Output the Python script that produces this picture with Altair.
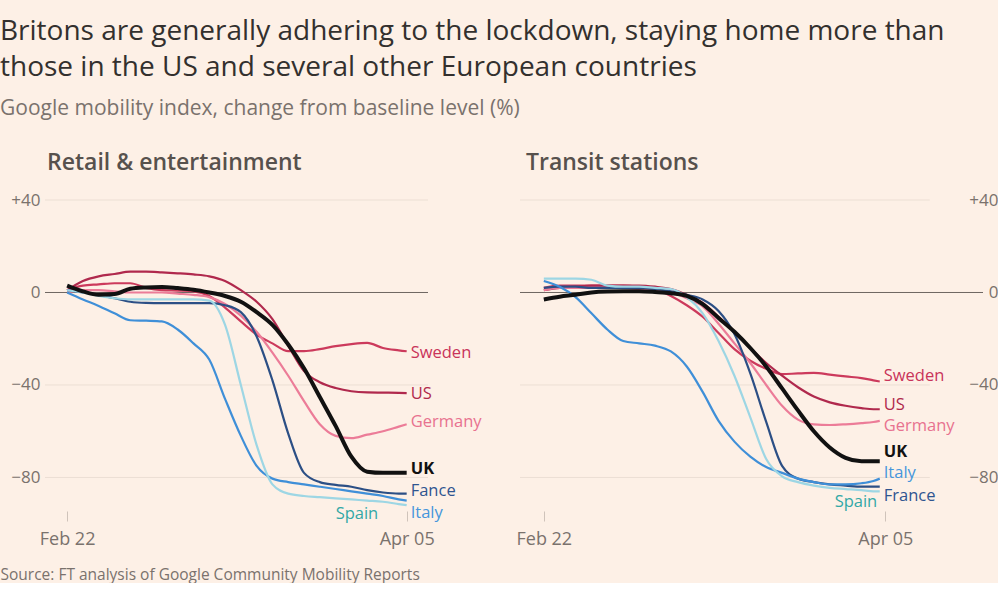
import altair as alt
import pandas as pd

FONT = "Open Sans"
BG = "#fdf0e6"
TEXT_DARK = "#33302e"
TEXT_GREY = "#7a726d"
PANEL_GREY = "#57514d"

RETAIL_DAYS = [0, 2, 4, 6, 8, 10, 12, 14, 16, 18, 20, 22, 24, 26, 28, 30, 32, 34, 36, 38, 40, 42, 43]
TRANSIT_DAYS = [0, 2, 4, 6, 8, 10, 12, 14, 16, 18, 20, 22, 24, 26, 28, 30, 32, 34, 36, 38, 40, 41.5, 42.3]
TICK_DAYS = [0, 43]
TICK_LABELS = ["Feb 22", "Apr 05"]
Y_TICKS = [40, 0, -40, -80]
GRID_VALUES = [40, -40, -80]

COUNTRIES = ["Sweden", "US", "Germany", "France", "Italy", "Spain", "UK"]
LINE_COLORS = ["#cc3a5c", "#b0294d", "#ec7c98", "#2c4f85", "#3f8fd8", "#9dd6e4", "#111111"]
LABEL_COLORS = ["#c9345a", "#b0294d", "#e8728f", "#2f5590", "#4596dc", "#33a8a6", "#111111"]

# Retail & entertainment (% change from baseline)
RETAIL_SWEDEN = [1, 3, 3.5, 4, 4, 2, 1, 0.8, 0.5, -1.5, -6.5, -12.5, -18.2, -22, -25.4, -25.4, -24.5, -23.2, -22.3, -21.8, -24, -25, -25.4]
RETAIL_US = [1, 5, 7, 8, 9, 9, 8.7, 8.3, 7.8, 7, 5, 1, -4, -11.5, -23, -34, -38.8, -41.3, -42.7, -43.2, -43.3, -43.4, -43.5]
RETAIL_GERMANY = [0, 1, 1, 0.5, 0, 0, 0, -0.5, -1, -2, -5, -10, -17, -26, -36, -47, -57, -62, -63, -61.5, -60, -58, -57]
RETAIL_UK = [3, 0.5, -1, -0.7, 1.6, 2.2, 2.4, 1.9, 1.2, 0, -1.5, -4, -8.5, -14, -22.5, -32.8, -45.2, -57.7, -71, -77.5, -78, -78, -78]
RETAIL_FRANCE = [1, 0, -1, -2.5, -4, -4.5, -4.6, -4.6, -4.6, -4.6, -5.5, -8.5, -19, -38, -61, -78, -82, -83.2, -84, -85.5, -86.5, -87, -87]
RETAIL_ITALY = [0, -3, -5.8, -9, -12, -12.2, -12.5, -16, -22, -29, -46, -62, -75, -80.5, -82, -83, -84, -85, -86, -87, -88, -89.5, -90]
RETAIL_SPAIN = [1, 0, -1.5, -2.5, -3, -3, -3, -3, -3, -3.5, -14, -40, -66, -83, -87, -88, -88.5, -89, -89.5, -90, -90.5, -91.5, -92]

# Transit stations (% change from baseline)
TRANSIT_SWEDEN = [2, 3, 3, 3, 3, 3, 2.5, 1.5, -1.5, -5.5, -10.5, -17.5, -24.5, -29.5, -33, -35.3, -35, -34.8, -35.5, -36.3, -37, -38, -38.5]
TRANSIT_US = [1, 2, 2.5, 3, 3, 3, 3, 2.5, 1.5, -1, -4.5, -10.5, -17, -24, -30.5, -36, -41, -45, -47.5, -49, -50, -50.5, -50.5]
TRANSIT_GERMANY = [1, 2, 2, 2, 2, 2, 1.5, 1, 0, -2.5, -6, -13.5, -22, -30.5, -40, -49, -55, -57, -57.3, -57, -56.5, -56, -55.5]
TRANSIT_UK = [-3, -1.8, -1, 0, 0.4, 0.5, 0.5, 0.2, -0.3, -1.5, -5, -11, -17, -24, -32, -41.5, -51, -60, -67, -71.5, -73, -73, -73]
TRANSIT_FRANCE = [2, 2.5, 2.5, 2, 2, 2, 2, 1.5, 0.5, -1, -3, -8, -18, -35, -56, -75, -80.5, -82, -83, -83.5, -84, -84, -84]
TRANSIT_ITALY = [5, 2.5, -2, -9, -16, -21, -22, -23, -25.5, -32, -43, -55.5, -64.5, -71, -75.5, -78, -80.5, -82, -83, -83, -82.5, -81.5, -80.5]
TRANSIT_SPAIN = [6, 6, 6, 5.5, 3, 2.5, 2.5, 2, 1.5, -2, -9, -21, -36, -54, -72, -79.5, -82, -83.5, -84.5, -85, -85.5, -86, -86]

# End-of-line labels
RETAIL_LABEL_TEXT = ["Sweden", "US", "Germany", "Fance", "Italy", "Spain", "UK"]
RETAIL_LABEL_VALUE = [-26.2, -43.9, -56.0, -86.0, -95.2, -95.8, -76.4]
RETAIL_LABEL_DAY = [43, 43, 43, 43, 43, 36.7, 43]
TRANSIT_LABEL_TEXT = ["Sweden", "US", "Germany", "France", "Italy", "Spain", "UK"]
TRANSIT_LABEL_VALUE = [-36.1, -48.6, -57.7, -87.8, -78.2, -90.8, -69.0]
TRANSIT_LABEL_DAY = [42.3, 42.3, 42.3, 42.3, 42.3, 39.3, 42.3]

TITLE_LINES = [
    "Britons are generally adhering to the lockdown, staying home more than",
    "those in the US and several other European countries",
]
SUBTITLE = "Google mobility index, change from baseline level (%)"
SOURCE = "Source: FT analysis of Google Community Mobility Reports"

Y_DOMAIN = [-94.5, 40]
PLOT_H = 311


def long_frame(days, series):
    rows = []
    for country, vals in zip(COUNTRIES, series):
        for d, v in zip(days, vals):
            rows.append({"day": d, "value": v, "country": country})
    return pd.DataFrame(rows)


def label_frame(texts, values, days):
    return pd.DataFrame({"country": COUNTRIES, "text": texts, "value": values, "day": days})


y_label_expr = "datum.value > 0 ? '+' + datum.value : (datum.value < 0 ? '\u2212' + abs(datum.value) : '0')"
x_label_expr = " : ".join(
    [f"datum.value == {d} ? '{t}'" for d, t in zip(TICK_DAYS[:-1], TICK_LABELS[:-1])]
) + f" : '{TICK_LABELS[-1]}'"


def panel(days, series, labels, title, x_domain, grid_end, zero_end, width, y_orient, y_label_pad, x_title, title_dx):
    data = long_frame(days, series)
    xs = alt.Scale(domain=x_domain, nice=False, zero=False)
    ys = alt.Scale(domain=Y_DOMAIN, nice=False, zero=False)

    axis_kw = dict(
        values=TICK_DAYS, labelExpr=x_label_expr, grid=False, domain=False,
        ticks=True, tickSize=10, tickColor="#cfc3ba", tickWidth=1,
        labelFontSize=18, labelColor=TEXT_GREY, labelPadding=9, labelFont=FONT,
    )
    if x_title:
        xaxis = alt.Axis(
            title=x_title, titleX=-45, titleY=68, titleAlign="left", titleAnchor="start",
            titleBaseline="alphabetic", titleFontSize=15.5, titleFontWeight="normal",
            titleColor=TEXT_GREY, titleFont=FONT, **axis_kw,
        )
    else:
        xaxis = alt.Axis(title=None, **axis_kw)
    yaxis = alt.Axis(
        values=Y_TICKS, labelExpr=y_label_expr, grid=False, domain=False, ticks=False,
        labelFontSize=17, labelColor=TEXT_GREY, labelPadding=y_label_pad, labelFont=FONT,
        orient=y_orient, labelAlign="right", title=None,
    )

    grid_df = pd.DataFrame({"value": GRID_VALUES, "x0": x_domain[0], "x1": grid_end})
    zero_df = pd.DataFrame({"value": [0], "x0": [x_domain[0]], "x1": [zero_end]})

    grid = alt.Chart(grid_df).mark_rule(color="#ecdfd4", strokeWidth=1).encode(
        x=alt.X("x0:Q", scale=xs, axis=xaxis), x2="x1:Q",
        y=alt.Y("value:Q", scale=ys, axis=yaxis),
    )
    zero = alt.Chart(zero_df).mark_rule(color="#6f6762", strokeWidth=1).encode(
        x=alt.X("x0:Q", scale=xs), x2="x1:Q", y=alt.Y("value:Q", scale=ys),
    )
    color = alt.Color("country:N", scale=alt.Scale(domain=COUNTRIES, range=LINE_COLORS), legend=None)
    lines = alt.Chart(data).transform_filter("datum.country != 'UK'").mark_line(
        interpolate="monotone", strokeWidth=2.2
    ).encode(
        x=alt.X("day:Q", scale=xs), y=alt.Y("value:Q", scale=ys), color=color,
        detail="country:N",
    )
    uk = alt.Chart(data).transform_filter("datum.country == 'UK'").mark_line(
        interpolate="monotone", strokeWidth=4
    ).encode(x=alt.X("day:Q", scale=xs), y=alt.Y("value:Q", scale=ys), color=color)

    lab_color = alt.Color("country:N", scale=alt.Scale(domain=COUNTRIES, range=LABEL_COLORS), legend=None)
    lab_main = alt.Chart(labels).transform_filter(
        "datum.country != 'Spain' && datum.country != 'UK'"
    ).mark_text(align="left", baseline="middle", dx=4, fontSize=16.5, font=FONT).encode(
        x=alt.X("day:Q", scale=xs), y=alt.Y("value:Q", scale=ys), text="text:N",
        color=lab_color,
    )
    lab_uk = alt.Chart(labels).transform_filter("datum.country == 'UK'").mark_text(
        align="left", baseline="middle", dx=4, fontSize=16.5, font=FONT, fontWeight="bold"
    ).encode(
        x=alt.X("day:Q", scale=xs), y=alt.Y("value:Q", scale=ys), text="text:N",
        color=lab_color,
    )
    lab_spain = alt.Chart(labels).transform_filter("datum.country == 'Spain'").mark_text(
        align="center", baseline="middle", fontSize=16.5, font=FONT
    ).encode(
        x=alt.X("day:Q", scale=xs), y=alt.Y("value:Q", scale=ys), text="text:N",
        color=lab_color,
    )

    return alt.layer(grid, zero, lines, uk, lab_main, lab_uk, lab_spain).resolve_scale(
        color="independent"
    ).properties(
        width=width, height=PLOT_H,
        title=alt.TitleParams(
            text=title, anchor="start", frame="group", fontSize=23, fontWeight=600,
            color=PANEL_GREY, font=FONT, offset=16, dx=title_dx,
        ),
    )


left = panel(
    RETAIL_DAYS,
    [RETAIL_SWEDEN, RETAIL_US, RETAIL_GERMANY, RETAIL_FRANCE, RETAIL_ITALY, RETAIL_SPAIN, RETAIL_UK],
    label_frame(RETAIL_LABEL_TEXT, RETAIL_LABEL_VALUE, RETAIL_LABEL_DAY),
    "Retail & entertainment", [-2.8, 45.7], 45.7, 45.7, 383, "left", 5, SOURCE, 2,
)
right = panel(
    TRANSIT_DAYS,
    [TRANSIT_SWEDEN, TRANSIT_US, TRANSIT_GERMANY, TRANSIT_FRANCE, TRANSIT_ITALY, TRANSIT_SPAIN, TRANSIT_UK],
    label_frame(TRANSIT_LABEL_TEXT, TRANSIT_LABEL_VALUE, TRANSIT_LABEL_DAY),
    "Transit stations", [-3.0, 55.3], 48.6, 55.3, 463, "right", 15, None, 6,
)

chart = alt.hconcat(left, right, spacing=92, bounds="flush").properties(
    title=alt.TitleParams(
        text=TITLE_LINES, subtitle=SUBTITLE, anchor="start", fontSize=28, fontWeight="normal",
        color=TEXT_DARK, font=FONT, lineHeight=36, subtitleFont=FONT, subtitleFontSize=21,
        subtitleColor=TEXT_GREY, subtitlePadding=16, offset=33,
    ),
    padding={"left": 0, "top": 18, "right": 0, "bottom": 0},
    background=BG,
).configure_view(stroke=None)

chart.save("out.html", embed_options={"renderer": "svg", "actions": False})
